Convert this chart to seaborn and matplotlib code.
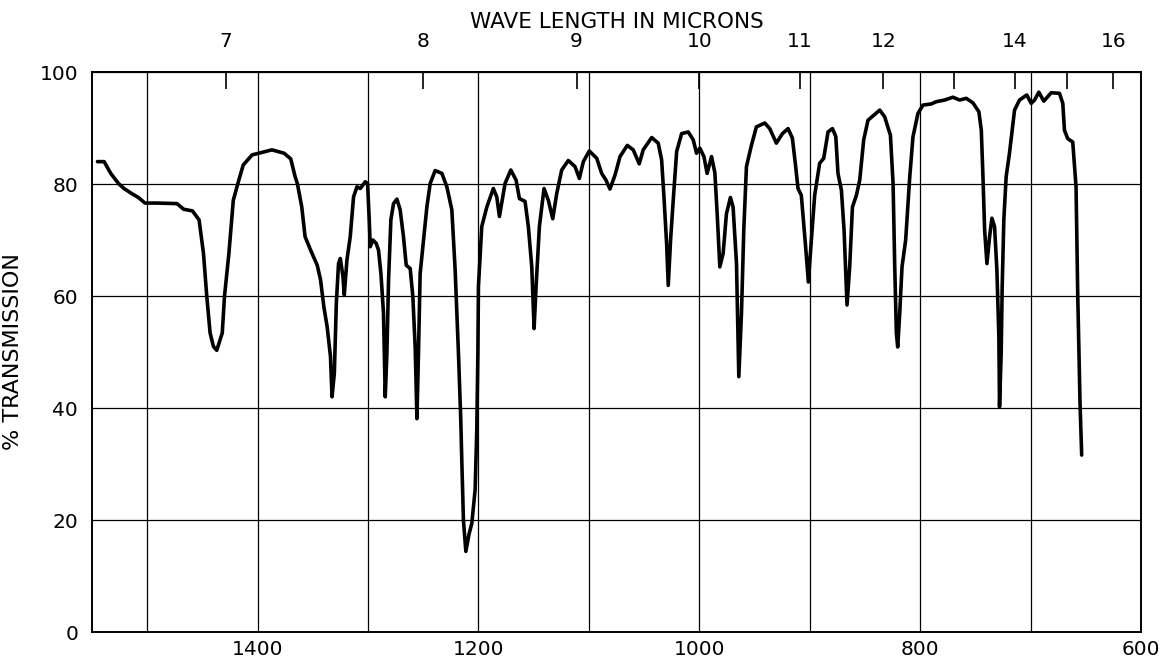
import numpy as np
import pandas as pd
import seaborn as sns
import matplotlib
matplotlib.use("Agg")
import matplotlib.pyplot as plt

# spectrum: wave number (cm-1) and % transmission
wavenumber = [
    1545, 1539, 1533, 1526, 1521, 1514, 1508, 1502, 1491, 1473, 1467, 1459,
    1453, 1449, 1446, 1443, 1440, 1437, 1432, 1430, 1426, 1422, 1417, 1413,
    1405, 1395, 1387, 1376, 1370, 1366, 1364, 1360, 1357, 1352, 1346, 1343,
    1340, 1337, 1334, 1332.6, 1330.5, 1328.7, 1326.7, 1325.1, 1322.7, 1321.5,
    1319.1, 1316.1, 1313.1, 1310, 1307, 1302.5, 1300.4, 1298.9, 1298, 1295.6,
    1292.6, 1290.5, 1288.3, 1286, 1284.4, 1282.9, 1281.4, 1279.3, 1276.9,
    1273.8, 1270.9, 1267.9, 1265.4, 1261.8, 1259.4, 1257.3, 1255.7, 1254.3,
    1252.8, 1249.8, 1246.7, 1243.7, 1239.2, 1233.1, 1228.6, 1224.1, 1221.1,
    1218.1, 1216, 1215, 1213.6, 1211.4, 1208.5, 1206, 1203, 1201.5, 1200.5,
    1200, 1197, 1192.4, 1186.5, 1183.4, 1181, 1175.9, 1170.7, 1165.9, 1162.9,
    1157.8, 1154.8, 1151.7, 1149.6, 1147.8, 1144.8, 1140.6, 1136.7, 1132.7,
    1129.1, 1124.6, 1118.6, 1112.5, 1108.6, 1105, 1099.6, 1092.9, 1088.4,
    1084.5, 1080.9, 1076.3, 1071.8, 1065.2, 1059.8, 1054.4, 1050.8, 1043.1,
    1037.2, 1034.1, 1032, 1029.6, 1028.1, 1026, 1023.6, 1020.5, 1016, 1010,
    1005.5, 1002.5, 999.5, 995.8, 992.9, 988.9, 985.9, 983.8, 981.4, 978.4,
    975.4, 971.8, 969.4, 966.3, 964.2, 961.8, 959.7, 957.3, 952.8, 948.3,
    940.7, 936.2, 930.2, 924.7, 919.6, 915.7, 912.7, 910.6, 907.6, 903.7,
    901.2, 898.5, 895.5, 891, 887.3, 883.4, 879.4, 876.4, 874.4, 871.3, 868.9,
    866.2, 863.8, 861.3, 857.7, 854.7, 851.1, 847.2, 836.6, 832.1, 826.9,
    824.5, 823, 821.5, 820.3, 818.5, 816.4, 813.1, 809.5, 806.5, 802, 797.4,
    789.9, 785.4, 777.8, 770.3, 764.3, 758.2, 752.2, 746.8, 744.6, 743.1,
    741.6, 739.5, 737.1, 735, 732.6, 730.5, 728.7, 728.1, 726.6, 725.7, 724.2,
    722.1, 719.1, 714.5, 710, 703.4, 699.4, 696.4, 692.5, 688, 681.3, 673.8,
    670.8, 669.3, 666.3, 661.8, 658.8, 657.3, 655.2, 653.7,
]
transmission = [
    84.0, 84.0, 81.9, 80.1, 79.2, 78.3, 77.6, 76.6, 76.6, 76.5, 75.5, 75.2,
    73.6, 67.6, 59.9, 53.4, 51.0, 50.3, 53.4, 59.9, 67.6, 77.1, 80.7, 83.4,
    85.2, 85.7, 86.1, 85.5, 84.5, 81.3, 80.1, 75.9, 70.6, 68.2, 65.5, 62.9,
    58.1, 54.5, 49.2, 42.0, 46.2, 58.7, 65.8, 66.7, 63.5, 60.2,
    66.4, 70.6, 77.7, 79.5, 79.2, 80.4, 80.1, 73.6, 68.8, 70.0,
    69.4, 68.2, 64.0, 57.0, 42.0, 49.8, 62.9, 73.6, 76.5,
    77.3, 75.4, 70.6, 65.5, 64.9, 59.9, 50.9, 38.1, 49.8,
    64.0, 69.9, 75.9, 80.1, 82.4, 81.9, 79.5, 75.4, 64.7,
    49.8, 37.9, 30.1, 20.0, 14.4, 17.5, 19.4, 25.4, 36.1, 50.0,
    61.7, 72.4, 75.9, 79.2, 77.7, 74.2, 80.1, 82.5, 80.7, 77.4,
    76.9, 72.4, 65.2, 54.2, 61.7, 72.4, 79.2, 77.1, 73.8,
    78.3, 82.5, 84.2, 83.1, 81.0, 84.0, 85.9, 84.6, 81.9,
    80.7, 79.1, 81.6, 84.9, 86.9, 86.1, 83.6, 86.1, 88.3,
    87.3, 84.3, 77.7, 69.4, 61.9, 70.0, 77.1, 85.8, 89.0, 89.3,
    87.9, 85.5, 86.4, 84.9, 81.9, 84.9, 82.0, 74.7, 65.2, 67.6,
    74.7, 77.6, 75.9, 65.8, 45.6, 56.9, 71.8, 83.1, 86.9, 90.2,
    90.9, 89.9, 87.3, 89.0, 89.9, 88.2, 83.1, 79.2, 78.0, 68.8,
    62.5, 70.0, 78.0, 83.7, 84.6, 89.3, 89.9, 88.5, 81.9, 78.9, 71.8,
    58.4, 65.2, 75.9, 78.0, 80.7, 87.9, 91.4, 93.2, 92.0, 88.7,
    80.1, 65.2, 53.3, 50.9, 56.9, 65.2, 70.0, 81.0, 88.4, 92.6, 94.1,
    94.3, 94.7, 95.0, 95.5, 95.0, 95.3, 94.5, 92.9, 89.6, 81.3,
    71.8, 65.8, 70.6, 73.9, 72.4, 64.7, 52.7, 40.2, 49.8, 61.6, 73.6,
    81.3, 85.5, 93.2, 95.0, 95.9, 94.4, 95.0, 96.4, 94.8, 96.3, 96.2,
    94.4, 89.6, 88.1, 87.5, 79.5, 60.5, 40.9, 31.6,
]

wn_ticks = list(range(600, 1501, 100))
wn_labels = [str(w) if w % 200 == 0 else "" for w in wn_ticks]
micron_ticks = [7, 8, 9, 10, 11, 12, 13, 14, 15, 16]
micron_labels = ["7", "8", "9", "10", "11", "12", "", "14", "", "16"]
t_ticks = [0, 20, 40, 60, 80, 100]

sns.set_style("white")
plt.rcParams["font.family"] = ["DejaVu Sans"]

df = pd.DataFrame({"wn": wavenumber, "t": transmission})

fig = plt.figure(figsize=(11.67, 6.62), dpi=100)
ax = fig.add_axes([0.0788, 0.0453, 0.8989, 0.8459])
sns.lineplot(data=df, x="wn", y="t", sort=False, estimator=None,
             color="black", lw=2.6, ax=ax)

ax.set_xlim(1550, 600)
ax.set_ylim(0, 100)
ax.set_xticks(wn_ticks)
ax.set_xticklabels(wn_labels)
ax.set_yticks(t_ticks)
ax.tick_params(axis="both", length=0, labelsize=14.5, colors="black")
ax.tick_params(axis="x", pad=6)
ax.tick_params(axis="y", pad=10)
ax.grid(True, color="black", lw=0.9)
ax.set_xlabel("")
ax.set_ylabel("% TRANSMISSION", fontsize=16, labelpad=12, color="black")
for s in ax.spines.values():
    s.set_color("black")
    s.set_linewidth(1.4)

sec = ax.secondary_xaxis("top", functions=(lambda w: 1e4 / np.maximum(w, 1e-9),
                                           lambda l: 1e4 / np.maximum(l, 1e-9)))
sec.set_xticks(micron_ticks)
sec.set_xticklabels(micron_labels)
sec.tick_params(direction="in", length=12, width=1.2, pad=15, labelsize=14.5,
                colors="black")
sec.minorticks_off()
sec.set_xlabel("WAVE LENGTH IN MICRONS", fontsize=15.5, labelpad=3, color="black")
sec.spines["top"].set_linewidth(1.4)

fig.savefig("out.png", dpi=100)
